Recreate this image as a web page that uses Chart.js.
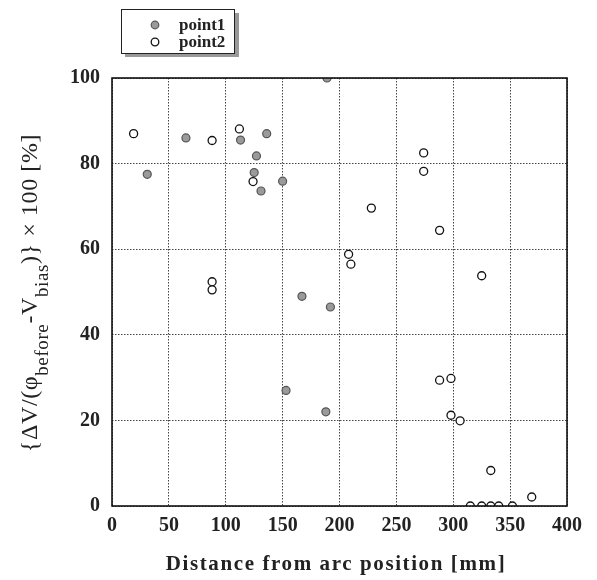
<!DOCTYPE html>
<html>
<head>
<meta charset="utf-8">
<script src="https://cdn.jsdelivr.net/npm/chart.js@4.4.1/dist/chart.umd.min.js"></script>
<style>
  html, body { margin: 0; padding: 0; background: #fff; }
  #wrap { width: 597px; height: 580px; }
</style>
</head>
<body>
<div id="wrap"><canvas id="scatterChart" width="597" height="580"></canvas></div>
<script>
// values
const point1X = [31, 65, 113, 136, 127, 125, 131, 150, 189, 167, 192, 153, 188];
const point1Y = [77.5, 86, 85.5, 87, 81.8, 77.9, 73.6, 75.9, 100, 49, 46.5, 27, 22];

const point2X = [19, 88, 112, 124, 88, 88, 274, 274, 228, 288, 208, 210, 325, 288, 298, 298, 306, 333, 369, 315, 325, 333, 340, 352];
const point2Y = [87, 85.4, 88.1, 75.8, 52.4, 50.5, 82.5, 78.2, 69.6, 64.4, 58.8, 56.5, 53.8, 29.4, 29.8, 21.2, 19.9, 8.3, 2.1, 0, 0, 0, 0, 0];

const xTicks = [0, 50, 100, 150, 200, 250, 300, 350, 400];
const yTicks = [0, 20, 40, 60, 80, 100];

const seriesLabels = ["point1", "point2"];
const xTitle = "Distance from arc position [mm]";

const toPoints = (xs, ys) => xs.map((x, i) => ({x: x, y: ys[i]}));

const serif = "'Liberation Serif', 'DejaVu Serif', serif";

// draws the framed legend, the axis titles and the plot border
const decorPlugin = {
    id: "decor",
    afterDraw(chart) {
        const ctx = chart.ctx;
        const area = chart.chartArea;

        ctx.save();
        // plot frame
        ctx.strokeStyle = "#111";
        ctx.lineWidth = 1.6;
        ctx.strokeRect(area.left, area.top, area.right - area.left, area.bottom - area.top);

        // legend box with shadow
        ctx.fillStyle = "#999";
        ctx.fillRect(125, 13, 114, 44);
        ctx.fillStyle = "#fff";
        ctx.fillRect(121, 9, 113, 44);
        ctx.strokeStyle = "#222";
        ctx.lineWidth = 1;
        ctx.strokeRect(121.5, 9.5, 113, 44);

        const items = chart.data.datasets;
        items.forEach((ds, i) => {
            const y = 25 + i * 17;
            ctx.beginPath();
            ctx.arc(155, y, 3.8, 0, Math.PI * 2);
            ctx.fillStyle = ds.backgroundColor;
            ctx.fill();
            ctx.lineWidth = ds.borderWidth;
            ctx.strokeStyle = ds.borderColor;
            ctx.stroke();
            ctx.fillStyle = "#222";
            ctx.font = "bold 17px " + serif;
            ctx.textBaseline = "middle";
            ctx.textAlign = "left";
            ctx.fillText(ds.label, 179, y + 1);
        });

        // x title
        ctx.fillStyle = "#222";
        ctx.font = "bold 21px " + serif;
        ctx.letterSpacing = "1.6px";
        ctx.textAlign = "center";
        ctx.textBaseline = "alphabetic";
        ctx.fillText(xTitle, 336, 570);

        // y title with subscripts, rotated
        const parts = [
            {t: "{\u0394V/(\u03c6", sub: false},
            {t: "before", sub: true},
            {t: "-V", sub: false},
            {t: "bias", sub: true},
            {t: ")} \u00d7 100 [%]", sub: false}
        ];
        const mainFont = "24px " + serif;
        const subFont = "19px " + serif;
        ctx.letterSpacing = "0.6px";
        let total = 0;
        parts.forEach(p => {
            ctx.font = p.sub ? subFont : mainFont;
            p.w = ctx.measureText(p.t).width;
            total += p.w;
        });
        ctx.translate(37, 293);
        ctx.rotate(-Math.PI / 2);
        ctx.textAlign = "left";
        let pos = -total / 2;
        parts.forEach(p => {
            ctx.font = p.sub ? subFont : mainFont;
            ctx.fillText(p.t, pos, p.sub ? 11 : 0);
            pos += p.w;
        });
        ctx.letterSpacing = "0px";
        ctx.restore();
    }
};

const data = {
    datasets: [{
        label: seriesLabels[0],
        data: toPoints(point1X, point1Y),
        backgroundColor: "#9a9a9a",
        borderColor: "#555",
        borderWidth: 1.2,
        pointRadius: 4
    }, {
        label: seriesLabels[1],
        data: toPoints(point2X, point2Y),
        backgroundColor: "#fff",
        borderColor: "#111",
        borderWidth: 1.3,
        pointRadius: 4
    }]
};

const gridStyle = {
    color: "#444",
    lineWidth: 1,
    drawTicks: false
};

// in Chart.js v4 the grid line dash is read from the border options
const borderStyle = {
    display: false,
    dash: [1.5, 1.5]
};

const options = {
    responsive: false,
    animation: false,
    layout: {
        padding: {left: 0, top: 78, right: 30, bottom: 0}
    },
    plugins: {
        legend: {display: false},
        tooltip: {enabled: false}
    },
    scales: {
        x: {
            type: "linear",
            min: 0,
            max: 400,
            afterBuildTicks: (scale) => { scale.ticks = xTicks.map(v => ({value: v})); },
            afterFit: (scale) => { scale.height = 74; },
            grid: gridStyle,
            border: borderStyle,
            ticks: {
                color: "#222",
                padding: 8,
                maxRotation: 0,
                font: {family: serif, size: 20, weight: "bold"}
            }
        },
        y: {
            type: "linear",
            min: 0,
            max: 100,
            afterBuildTicks: (scale) => { scale.ticks = yTicks.map(v => ({value: v})); },
            afterFit: (scale) => { scale.width = 112; },
            grid: gridStyle,
            border: borderStyle,
            ticks: {
                color: "#222",
                padding: 12,
                font: {family: serif, size: 20, weight: "bold"}
            }
        }
    }
};

const scatterChart = new Chart(document.getElementById("scatterChart"), {
    type: "scatter",
    data: data,
    options: options,
    plugins: [decorPlugin]
});
</script>
</body>
</html>
